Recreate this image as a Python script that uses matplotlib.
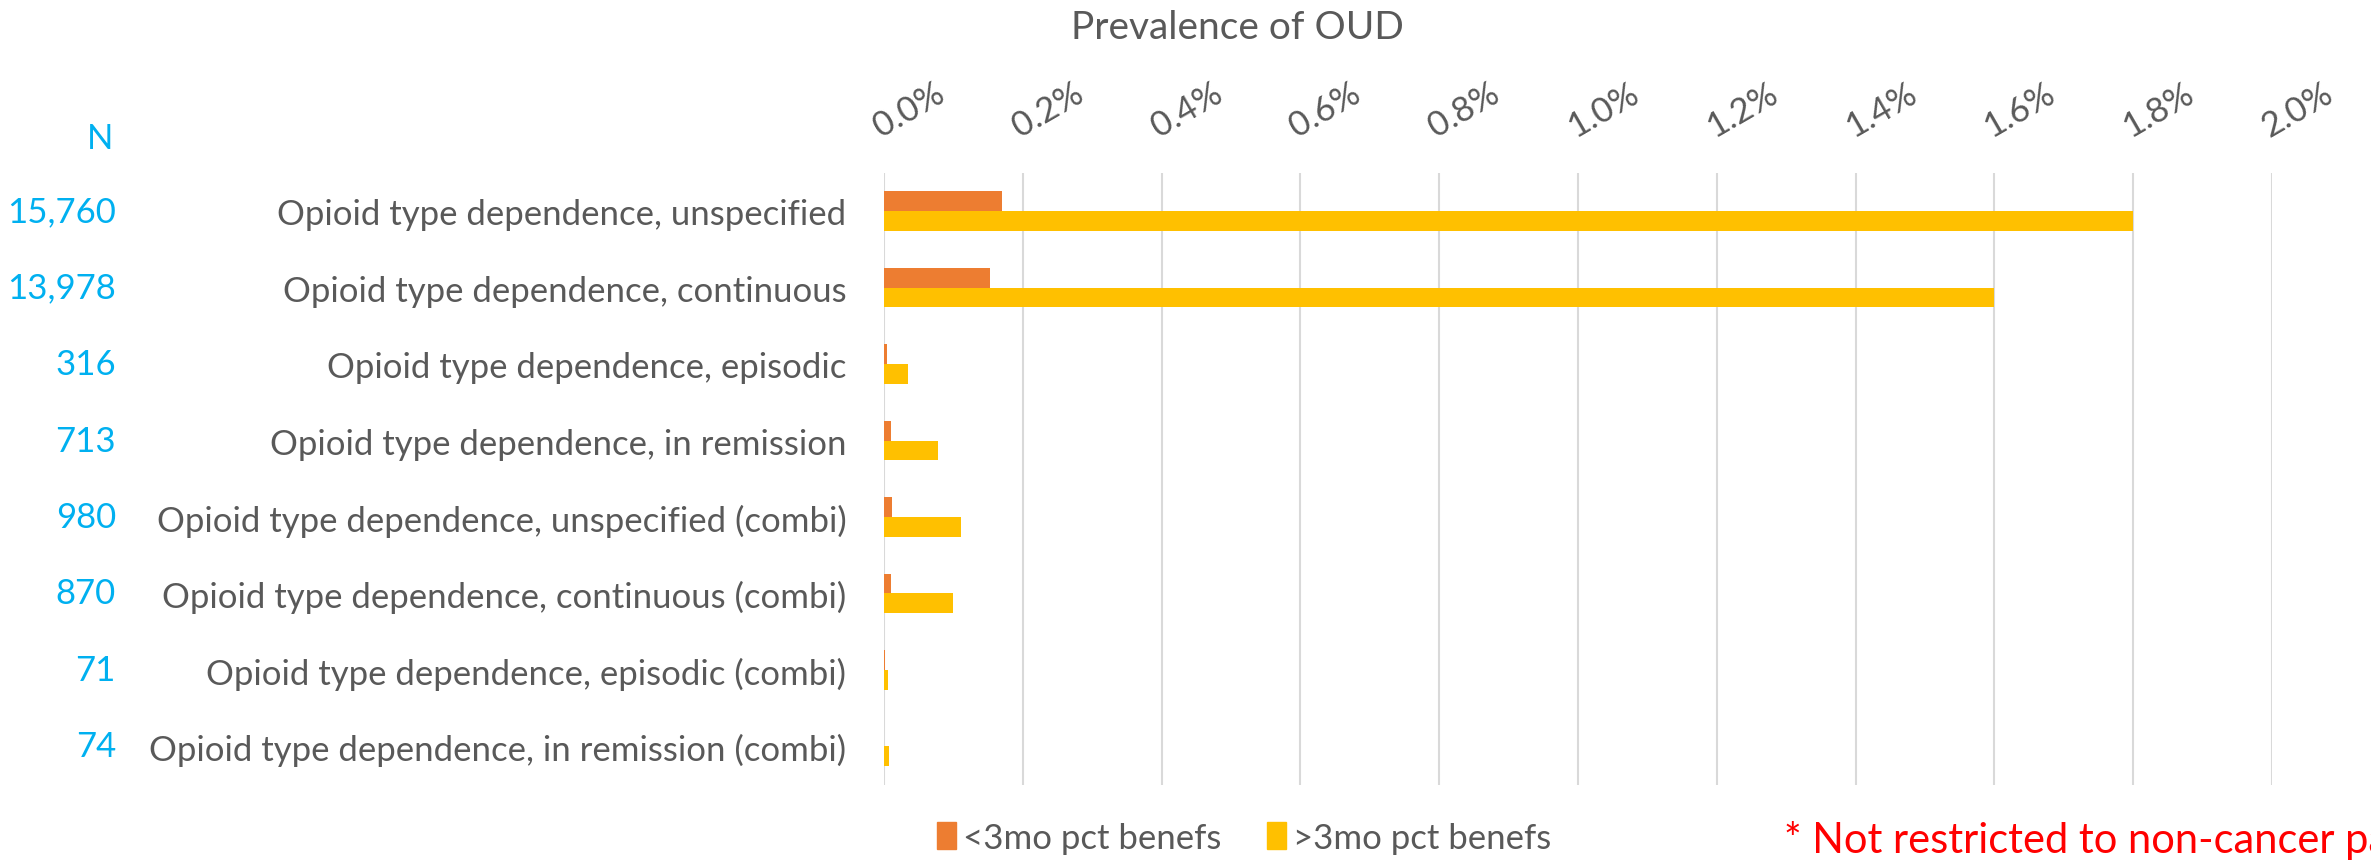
import matplotlib
matplotlib.use('Agg')
import matplotlib.pyplot as plt
import matplotlib.transforms as mtransforms
from matplotlib.patches import Patch
import numpy as np

# Data (prevalence in %)
categories = ['Opioid type dependence, unspecified',
              'Opioid type dependence, continuous',
              'Opioid type dependence, episodic',
              'Opioid type dependence, in remission',
              'Opioid type dependence, unspecified (combi)',
              'Opioid type dependence, continuous (combi)',
              'Opioid type dependence, episodic (combi)',
              'Opioid type dependence, in remission (combi)']
n_values = ['15,760', '13,978', '316', '713', '980', '870', '71', '74']
lt3 = [0.170, 0.153, 0.004, 0.010, 0.011, 0.010, 0.001, 0.0]
gt3 = [1.80, 1.60, 0.035, 0.078, 0.111, 0.099, 0.006, 0.008]
xticks = [0.0, 0.2, 0.4, 0.6, 0.8, 1.0, 1.2, 1.4, 1.6, 1.8, 2.0]

GRAY = '#595959'
BLUE = '#00B0F0'
ORANGE = '#ED7D31'
YELLOW = '#FFC000'

plt.rcParams['font.family'] = ['Lato', 'DejaVu Sans']

fig = plt.figure(figsize=(23.71, 8.62), dpi=100)
ax = fig.add_axes([0.3728, 0.0885, 0.5855, 0.7099])

y = np.arange(len(categories))
h = 0.26
ax.barh(y - h / 2, lt3, height=h, color=ORANGE, zorder=3)
ax.barh(y + h / 2, gt3, height=h, color=YELLOW, zorder=3)

ax.set_xlim(0, 2.0)
ax.set_ylim(len(categories) - 0.5, -0.5)
ax.set_xticks(xticks)
ax.set_xticklabels(['{:.1f}%'.format(v) for v in xticks], rotation=30,
                   ha='left', va='bottom', rotation_mode='anchor',
                   fontsize=25, color=GRAY)
ax.xaxis.tick_top()
ax.tick_params(axis='x', length=0, pad=22)
ax.set_yticks(y)
ax.set_yticklabels(categories, fontsize=25, color=GRAY)
ax.tick_params(axis='y', length=0, pad=27)
ax.grid(axis='x', color='#D9D9D9', linewidth=1.5, zorder=0)
for s in ax.spines.values():
    s.set_visible(False)

# N column
trans = mtransforms.blended_transform_factory(fig.transFigure, ax.transData)
for i, n in enumerate(n_values):
    fig.text(0.0489, i, n, transform=trans, ha='right', va='center',
             fontsize=25, color=BLUE)
fig.text(0.0477, 1 - 139 / 862, 'N', ha='right', va='center', fontsize=25, color=BLUE)

fig.text(0.5217, 0.967, 'Prevalence of OUD', ha='center', va='center',
         fontsize=28, color=GRAY)

handles = [Patch(color=ORANGE, label='<3mo pct benefs'),
           Patch(color=YELLOW, label='>3mo pct benefs')]
fig.legend(handles=handles, loc='center', bbox_to_anchor=(0.5247, 0.027), ncol=2,
           frameon=False, fontsize=25, handlelength=0.55, handleheight=0.8,
           handletextpad=0.2, columnspacing=1.3, labelcolor=GRAY)

fig.text(0.7524, 0.025, '* Not restricted to non-cancer patients', ha='left',
         va='center', fontsize=30, color='#FF0000')

fig.savefig('out.png', dpi=100)
